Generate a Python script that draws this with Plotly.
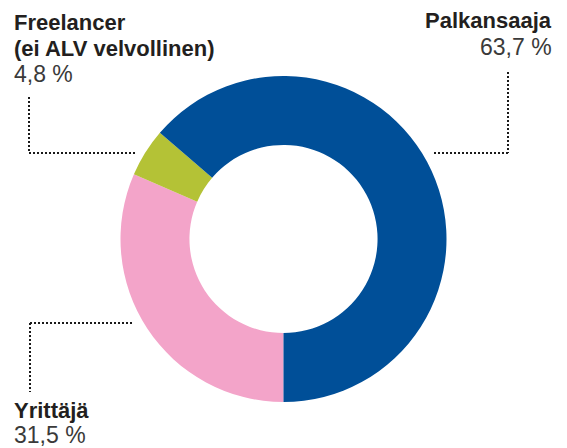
import plotly.graph_objects as go

W, H = 567, 448

# data (clockwise order starting at 6 o'clock)
labels = ["Yrittäjä", "Freelancer (ei ALV velvollinen)", "Palkansaaja"]
values = [31.5, 4.8, 63.7]
value_texts = ["31,5 %", "4,8 %", "63,7 %"]
colors = ["#f3a4c9", "#b4c236", "#004f98"]

def px(x):
    return x / W

def py(y):
    return 1 - y / H

cx, cy, r = 283.5, 239, 163

fig = go.Figure(go.Pie(
    labels=labels,
    values=values,
    sort=False,
    direction="clockwise",
    rotation=180,
    hole=0.577,
    marker=dict(colors=colors, line=dict(width=0)),
    textinfo="none",
    hoverinfo="label+percent",
    domain=dict(x=[px(cx - r), px(cx + r)], y=[py(cy + r), py(cy - r)]),
))

FONT = "Liberation Sans, Arial, sans-serif"
BOLD_C = "#231f20"
REG_C = "#3a3a3a"

def label(text, x, baseline, anchor, bold):
    fs = 22 if bold else 23
    off = 0.35 * fs
    fig.add_annotation(
        text=f"<b>{text}</b>" if bold else text,
        x=px(x), y=py(baseline - off), xref="paper", yref="paper",
        xanchor=anchor, yanchor="middle", showarrow=False,
        font=dict(family=FONT, size=fs, color=BOLD_C if bold else REG_C),
    )

label("Freelancer", 12, 30, "left", True)
label("(ei ALV velvollinen)", 12, 56, "left", True)
label(value_texts[1], 12, 82, "left", False)

label("Palkansaaja", 554, 28, "right", True)
label(value_texts[2], 554, 55, "right", False)

label("Yrittäjä", 12, 418, "left", True)
label(value_texts[0], 12, 443, "left", False)

line_style = dict(color="#1a1a1a", width=2, dash="2px,2px")

def seg(x0, y0, x1, y1):
    fig.add_shape(type="line", xref="paper", yref="paper",
                  x0=px(x0), y0=py(y0), x1=px(x1), y1=py(y1), line=line_style)

# Freelancer leader
seg(29, 97, 29, 153)
seg(29, 153, 136, 153)
# Palkansaaja leader
seg(508, 72, 508, 153)
seg(434, 153, 508, 153)
# Yrittäjä leader
seg(30, 323, 133, 323)
seg(30, 323, 30, 392)

fig.update_layout(
    width=W, height=H,
    margin=dict(l=0, r=0, t=0, b=0),
    paper_bgcolor="white", plot_bgcolor="white",
    showlegend=False,
)

fig.write_html(
    "out.html",
    config={"displayModeBar": False},
    post_script="document.body.style.margin='0';document.body.style.padding='0';",
)
